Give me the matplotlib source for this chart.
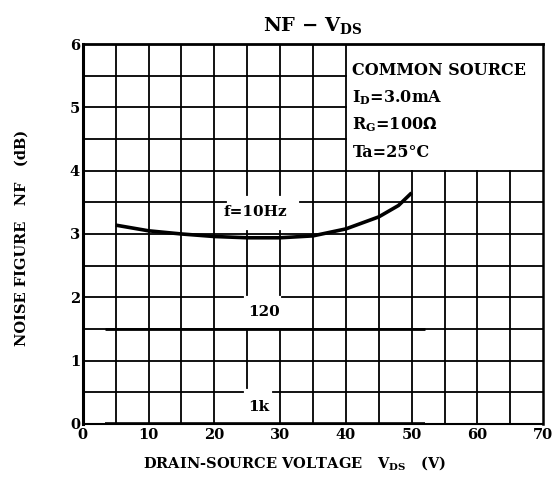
import matplotlib.pyplot as plt

# f=10Hz curve
vds_10 = [5, 10, 15, 20, 25, 30, 35, 40, 45, 48, 50]
nf_10 = [3.14, 3.05, 3.0, 2.96, 2.94, 2.94, 2.97, 3.08, 3.27, 3.45, 3.65]
# f=120Hz and 1kHz are flat
vds_flat = [3.3, 52]
nf_120 = [1.5, 1.5]
nf_1k = [0.0, 0.0]

xticks = [0, 10, 20, 30, 40, 50, 60, 70]
yticks = [0, 1, 2, 3, 4, 5, 6]
conditions = ['COMMON SOURCE', r'I$_\mathregular{D}$=3.0mA',
              r'R$_\mathregular{G}$=100$\Omega$', 'Ta=25°C']

plt.rcParams['font.family'] = 'DejaVu Serif'
plt.rcParams['font.weight'] = 'bold'
plt.rcParams['axes.titleweight'] = 'bold'
plt.rcParams['axes.labelweight'] = 'bold'
plt.rcParams['mathtext.default'] = 'bf'

fig = plt.figure(figsize=(5.52, 4.9), dpi=100)
ax = fig.add_axes([0.150, 0.135, 0.834, 0.775])
ax.set_xlim(0, 70)
ax.set_ylim(0, 6)

lw = 1.3
# vertical grid every 5 V, with gaps where labels sit
gaps_v = {25: [(3.05, 3.62), (1.47, 2.04), (0, 0.57)],
          30: [(3.04, 3.62), (1.47, 2.04)]}
for x in range(5, 70, 5):
    top = 4.0 if x > 40 else 6.0
    segs = [(0, top)]
    for g in gaps_v.get(x, []):
        new = []
        for a, b in segs:
            if g[0] > a:
                new.append((a, min(b, g[0])))
            if g[1] < b:
                new.append((max(a, g[1]), b))
        segs = new
    for a, b in segs:
        ax.plot([x, x], [a, b], color='black', lw=lw)

# horizontal grid every 0.5 dB
gaps_h = {3.5: (21.8, 33.0), 2.0: (24.4, 30.3), 0.5: (24.4, 28.9)}
for i in range(1, 12):
    y = i * 0.5
    right = 40 if y > 4 else 70
    if y in gaps_h:
        g = gaps_h[y]
        ax.plot([0, g[0]], [y, y], color='black', lw=lw)
        ax.plot([g[1], right], [y, y], color='black', lw=lw)
    else:
        ax.plot([0, right], [y, y], color='black', lw=lw)

ax.plot(vds_10, nf_10, color='black', lw=2.6, solid_capstyle='butt')
ax.plot(vds_flat, nf_120, color='black', lw=2.0, solid_capstyle='butt')
ax.plot(vds_flat, nf_1k, color='black', lw=2.6, solid_capstyle='butt')

ax.text(26.3, 3.35, 'f=10Hz', ha='center', va='center', fontsize=11)
ax.text(27.5, 1.77, '120', ha='center', va='center', fontsize=11)
ax.text(26.8, 0.27, '1k', ha='center', va='center', fontsize=11)

for k, s in enumerate(conditions):
    ax.text(41.0, 5.58 - k * 0.43, s, ha='left', va='center', fontsize=11.5)

for side, w in [('left', 2.2), ('top', 2.0), ('right', 1.8), ('bottom', 1.5)]:
    ax.spines[side].set_linewidth(w)

ax.set_xticks(xticks)
ax.set_yticks(yticks)
ax.tick_params(length=0, labelsize=10.5, pad=3)
ax.tick_params(axis='y', pad=2)
ax.set_xlabel(r'DRAIN-SOURCE VOLTAGE   V$_\mathregular{DS}$   (V)', fontsize=10.5)
ax.xaxis.set_label_coords(0.46, -0.08)
ax.set_ylabel('NOISE FIGURE   NF   (dB)', fontsize=10.5)
ax.yaxis.set_label_coords(-0.117, 0.49)
ax.set_title(r'NF $-$ V$_\mathregular{DS}$', fontsize=14, pad=-2, y=1.04)

fig.savefig('out.png', dpi=100)
